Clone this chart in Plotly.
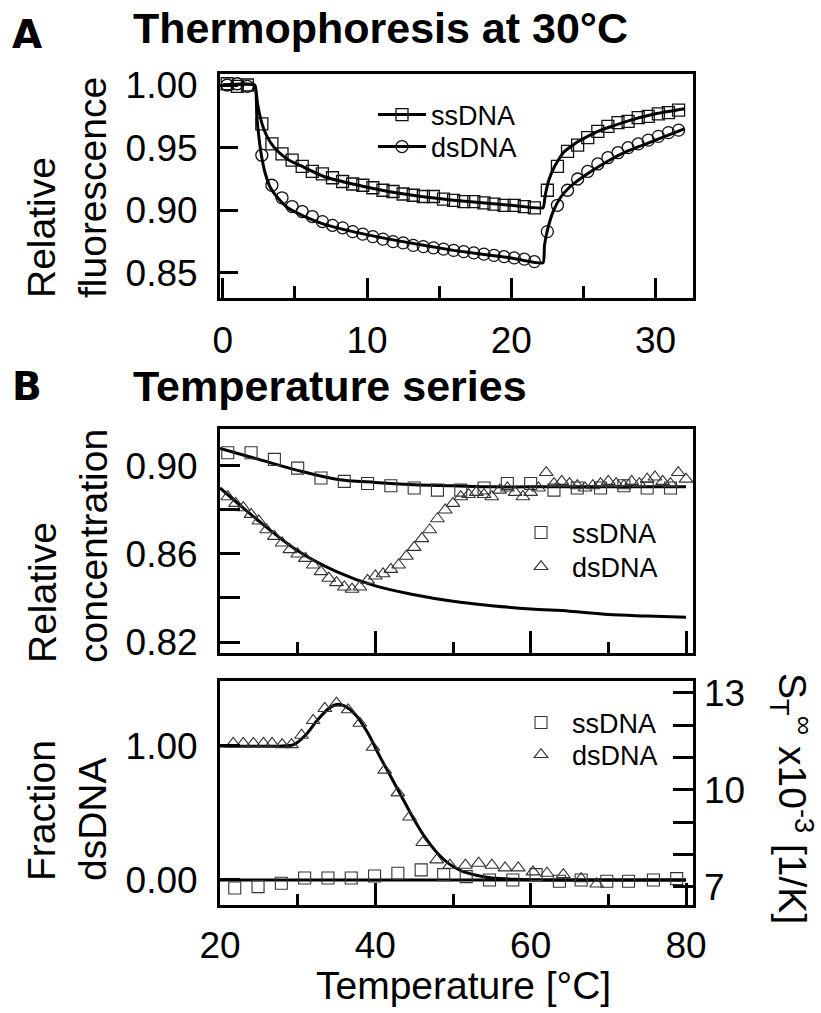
import plotly.graph_objects as go

FONT = "Liberation Sans"

# ---------------- Panel A: thermophoresis at 30 °C ----------------
a_time = [0.3, 1.0, 1.7,
          2.7, 3.4, 4.1, 4.8, 5.5, 6.2, 6.9, 7.6, 8.3, 9.0, 9.7, 10.4, 11.1, 11.8,
          12.5, 13.2, 13.9, 14.6, 15.3, 16.0, 16.7, 17.4, 18.1, 18.8, 19.5, 20.2,
          20.9, 21.6,
          22.5, 23.2, 23.9, 24.6, 25.3, 26.0, 26.7, 27.4, 28.1, 28.8, 29.5, 30.2,
          30.9, 31.6]
a_ss = [1.001, 0.999, 1.000,
        0.969, 0.953, 0.945, 0.940, 0.935, 0.931, 0.929, 0.926, 0.923, 0.921, 0.920,
        0.918, 0.916, 0.915, 0.913, 0.912, 0.911, 0.911, 0.909, 0.908, 0.907, 0.907,
        0.906, 0.905, 0.904, 0.904, 0.903, 0.902,
        0.916, 0.935, 0.947, 0.952, 0.958, 0.963, 0.967, 0.970, 0.971, 0.974, 0.975,
        0.977, 0.978, 0.980]
a_ds = [1.000, 1.001, 0.999,
        0.944, 0.920, 0.910, 0.903, 0.899, 0.895, 0.891, 0.888, 0.886, 0.883, 0.881,
        0.879, 0.877, 0.875, 0.874, 0.872, 0.871, 0.870, 0.869, 0.868, 0.867, 0.866,
        0.865, 0.864, 0.863, 0.862, 0.861, 0.859,
        0.883, 0.904, 0.916, 0.925, 0.931, 0.937, 0.942, 0.946, 0.950, 0.953, 0.956,
        0.959, 0.962, 0.964]

a_fit_ss_t = [0, 2.2, 2.4, 2.6, 2.8, 3.1, 3.5, 4.0, 4.6, 5.5, 7.0, 9.0, 12.0, 16.0,
              20.0, 22.2, 22.35, 22.6, 23.0, 23.6, 24.5, 26.0, 28.0, 30.0, 32.0]
a_fit_ss = [1.0, 1.0, 0.985, 0.974, 0.966, 0.958, 0.951, 0.945, 0.940, 0.935, 0.927,
            0.921, 0.914, 0.908, 0.904, 0.902, 0.912, 0.924, 0.935, 0.946, 0.954,
            0.963, 0.971, 0.977, 0.981]
a_fit_ds_t = [0, 2.2, 2.35, 2.5, 2.7, 2.95, 3.3, 3.8, 4.5, 5.5, 7.0, 9.0, 12.0, 16.0,
              20.0, 22.2, 22.3, 22.5, 22.9, 23.4, 24.0, 25.0, 26.5, 28.0, 30.0, 32.0]
a_fit_ds = [1.0, 1.0, 0.975, 0.958, 0.942, 0.929, 0.918, 0.910, 0.902, 0.896, 0.889,
            0.883, 0.876, 0.868, 0.862, 0.858, 0.872, 0.884, 0.899, 0.910, 0.918,
            0.927, 0.938, 0.947, 0.956, 0.965]

# ---------------- Panel B top: relative concentration ----------------
b_ss_T = [21, 24, 27, 30, 33, 36, 39, 42, 45, 48, 51, 54, 57, 60, 63, 66, 69, 72, 75, 78]
b_ss = [0.906, 0.906, 0.903, 0.899, 0.8945, 0.893, 0.892, 0.891, 0.890, 0.889, 0.889,
        0.890, 0.892, 0.892, 0.889, 0.890, 0.890, 0.891, 0.890, 0.890]
b_ds_T = [21, 22, 23, 24, 25, 26, 27, 28, 29, 30, 31, 32, 33, 34, 35, 36, 37, 38, 39, 40,
          41, 42, 43, 44, 45, 46, 47, 48, 49, 50, 51, 52, 53, 54, 55, 56, 57, 58, 59, 60,
          61, 62, 63, 64, 65, 66, 67, 68, 69, 70, 71, 72, 73, 74, 75, 76, 77, 78, 79, 80]
b_ds = [0.886, 0.883, 0.881, 0.878, 0.875, 0.871, 0.868, 0.865, 0.862, 0.860, 0.858,
        0.855, 0.852, 0.849, 0.847, 0.845, 0.844, 0.845, 0.848, 0.850, 0.851, 0.853,
        0.855, 0.859, 0.863, 0.867, 0.871, 0.876, 0.880, 0.883, 0.886, 0.887, 0.888,
        0.887, 0.886, 0.889, 0.890, 0.888, 0.886, 0.888, 0.890, 0.897, 0.892, 0.893,
        0.892, 0.891, 0.890, 0.891, 0.892, 0.893, 0.892, 0.891, 0.893, 0.892, 0.894,
        0.895, 0.893, 0.892, 0.897, 0.894]
b_fit_ss_T = [20, 25, 30, 35, 40, 45, 50, 55, 60, 70, 80]
b_fit_ss = [0.908, 0.903, 0.898, 0.894, 0.8925, 0.8915, 0.891, 0.8905, 0.8905, 0.8905,
            0.8905]
b_fit_ds_T = [20, 25, 30, 35, 40, 45, 50, 55, 60, 65, 70, 75, 80]
b_fit_ds = [0.890, 0.875, 0.8615, 0.852, 0.8455, 0.8415, 0.8385, 0.8365, 0.835, 0.834,
            0.8325, 0.8318, 0.8312]

# ---------------- Panel B bottom: fraction dsDNA ----------------
c_ds_T = [21.7, 23.0, 24.3, 25.6, 26.7, 28.0, 29.2, 30.5, 32.0, 33.5, 35.0, 36.5, 38.0,
          39.7, 41.2, 42.9, 44.4, 46.1, 47.9, 49.6, 51.6, 53.3, 55.0, 56.7, 58.4, 60.3,
          62.1, 64.2, 66.5, 68.5]
c_ds = [1.02, 1.02, 1.02, 1.02, 1.02, 1.01, 1.01, 1.08, 1.19, 1.28, 1.32, 1.27, 1.17,
        0.99, 0.82, 0.65, 0.47, 0.28, 0.15, 0.11, 0.11, 0.125, 0.11, 0.09, 0.09, 0.06,
        0.05, 0.04, 0.01, -0.03]
c_ss_T = [21.9, 24.9, 27.9, 30.9, 33.9, 36.9, 39.9, 42.9, 45.9, 48.8, 51.7, 54.7, 57.7,
          60.7, 63.7, 66.5, 69.8, 72.6, 75.8, 78.8]
c_ss = [-0.06, -0.05, -0.025, 0.015, 0.015, 0.015, 0.03, 0.05, 0.075, 0.04, 0.025, 0.0,
        0.0, 0.04, -0.01, 0.0, -0.01, -0.01, 0.0, 0.01]
c_fit_ds_T = [20, 28, 29.5, 31, 32.5, 34, 35, 36, 37.5, 39, 40.5, 42, 43.5, 45, 46.5, 48,
              49.5, 51, 53, 55, 58, 62, 80]
c_fit_ds = [1.00, 1.00, 1.01, 1.08, 1.19, 1.28, 1.31, 1.30, 1.23, 1.10, 0.93, 0.77, 0.61,
            0.45, 0.31, 0.20, 0.12, 0.07, 0.035, 0.015, 0.005, 0.0, 0.0]
c_fit_ss_T = [20, 80]
c_fit_ss = [0.0, 0.0]

right_ticks = [7, 10, 13]

fig = go.Figure()

mk_a = dict(color="#111", size=12, line=dict(color="#111", width=1.3))
mk_b = dict(color="#333", size=12, line=dict(color="#333", width=1.1))
LEGF = dict(family="Liberation Sans", size=27, color="black")

# Panel A
fig.add_trace(go.Scatter(x=a_time, y=a_ss, mode="markers", xaxis="x", yaxis="y",
                         marker=dict(symbol="square-open", **mk_a), showlegend=False))
fig.add_trace(go.Scatter(x=a_time, y=a_ds, mode="markers", xaxis="x", yaxis="y",
                         marker=dict(symbol="circle-open", **mk_a), showlegend=False))
fig.add_trace(go.Scatter(x=a_fit_ss_t, y=a_fit_ss, mode="lines", xaxis="x", yaxis="y",
                         line=dict(color="black", width=3, shape="spline", smoothing=0.4),
                         showlegend=False))
fig.add_trace(go.Scatter(x=a_fit_ds_t, y=a_fit_ds, mode="lines", xaxis="x", yaxis="y",
                         line=dict(color="black", width=3, shape="spline", smoothing=0.4),
                         showlegend=False))
fig.add_trace(go.Scatter(x=[None], y=[None], mode="lines+markers", name="ssDNA",
                         xaxis="x", yaxis="y", legend="legend",
                         line=dict(color="black", width=3),
                         marker=dict(symbol="square-open", **mk_a)))
fig.add_trace(go.Scatter(x=[None], y=[None], mode="lines+markers", name="dsDNA",
                         xaxis="x", yaxis="y", legend="legend4",
                         line=dict(color="black", width=3),
                         marker=dict(symbol="circle-open", **mk_a)))

# Panel B top
fig.add_trace(go.Scatter(x=b_fit_ss_T, y=b_fit_ss, mode="lines", xaxis="x2", yaxis="y2",
                         line=dict(color="black", width=3, shape="spline"), showlegend=False))
fig.add_trace(go.Scatter(x=b_fit_ds_T, y=b_fit_ds, mode="lines", xaxis="x2", yaxis="y2",
                         line=dict(color="black", width=3, shape="spline"), showlegend=False))
fig.add_trace(go.Scatter(x=b_ss_T, y=b_ss, mode="markers", xaxis="x2", yaxis="y2",
                         name="ssDNA", legend="legend2",
                         marker=dict(symbol="square-open", **mk_b)))
fig.add_trace(go.Scatter(x=b_ds_T, y=b_ds, mode="markers", xaxis="x2", yaxis="y2",
                         name="dsDNA", legend="legend5",
                         marker=dict(symbol="triangle-up-open", **mk_b)))

# Panel B bottom
fig.add_trace(go.Scatter(x=c_fit_ss_T, y=c_fit_ss, mode="lines", xaxis="x3", yaxis="y3",
                         line=dict(color="black", width=3), showlegend=False))
fig.add_trace(go.Scatter(x=c_fit_ds_T, y=c_fit_ds, mode="lines", xaxis="x3", yaxis="y3",
                         line=dict(color="black", width=3, shape="spline"), showlegend=False))
fig.add_trace(go.Scatter(x=c_ss_T, y=c_ss, mode="markers", xaxis="x3", yaxis="y3",
                         name="ssDNA", legend="legend3",
                         marker=dict(symbol="square-open", **mk_b)))
fig.add_trace(go.Scatter(x=c_ds_T, y=c_ds, mode="markers", xaxis="x3", yaxis="y3",
                         name="dsDNA", legend="legend6",
                         marker=dict(symbol="triangle-up-open", **mk_b)))
fig.add_trace(go.Scatter(x=[None], y=[None], xaxis="x3", yaxis="y4", showlegend=False,
                         mode="markers"))

W, H = 821, 1013
def px(x):
    return x / W
def py(y):
    return 1 - y / H

XD = [px(220), px(693)]
TICKF = dict(family=FONT, size=37, color="black")
common = dict(showline=True, linewidth=3, linecolor="black", mirror=True, showgrid=False,
              zeroline=False, ticks="inside", tickwidth=3, tickcolor="black",
              tickfont=TICKF, automargin=False)

def leg(x, y, iw):
    return dict(x=px(x), y=py(y), xanchor="left", yanchor="middle",
                bgcolor="rgba(0,0,0,0)", font=LEGF, itemwidth=iw, borderwidth=0)

fig.update_layout(
    width=W, height=H, margin=dict(l=0, r=0, t=0, b=0, autoexpand=False),
    paper_bgcolor="white", plot_bgcolor="white",
    font=dict(family=FONT, color="black"),
    xaxis=dict(domain=XD, anchor="y", range=[-0.2, 32.6], tick0=0, dtick=10, ticklen=20,
               minor=dict(ticks="inside", dtick=5, tick0=0, ticklen=12, tickwidth=3,
                          tickcolor="black"),
               ticklabelstandoff=8, **common),
    yaxis=dict(domain=[py(298), py(74)], anchor="x", range=[0.830, 1.0088],
               tickvals=[0.85, 0.90, 0.95, 1.00], tickformat=".2f", ticklen=18,
               ticklabelstandoff=12, **common),
    xaxis2=dict(domain=XD, anchor="y2", range=[20, 80.9], tick0=20, dtick=20, ticklen=22,
                showticklabels=False,
                minor=dict(ticks="inside", dtick=10, tick0=20, ticklen=11, tickwidth=3,
                           tickcolor="black"), **common),
    yaxis2=dict(domain=[py(653), py(429)], anchor="x2", range=[0.815, 0.9168],
                tick0=0.82, dtick=0.04, tickformat=".2f", ticklen=20,
                minor=dict(ticks="inside", tick0=0.82, dtick=0.02, ticklen=20,
                           tickwidth=3, tickcolor="black"),
                ticklabelstandoff=12, **common),
    xaxis3=dict(domain=XD, anchor="y3", range=[20, 80.9], tick0=20, dtick=20, ticklen=22,
                minor=dict(ticks="inside", dtick=10, tick0=20, ticklen=11, tickwidth=3,
                           tickcolor="black"),
                ticklabelstandoff=6, **common),
    yaxis3=dict(domain=[py(905), py(681)], anchor="x3", range=[-0.187, 1.485],
                tickvals=[0.0, 1.0], tickformat=".2f", ticklen=20,
                ticklabelstandoff=12, **common),
    yaxis4=dict(overlaying="y3", anchor="x3", side="right", range=[6.44, 13.37],
                tickvals=right_ticks, showline=False,
                showgrid=False, zeroline=False, ticks="inside", ticklen=20, tickwidth=3,
                tickcolor="black", tickfont=TICKF, ticklabelstandoff=10,
                minor=dict(ticks="inside", tick0=7, dtick=1, ticklen=20, tickwidth=3,
                           tickcolor="black"),
                automargin=False),
    legend=leg(373, 115, 48),
    legend4=leg(373, 147, 48),
    legend2=leg(510, 533, 52),
    legend5=leg(510, 567, 52),
    legend3=leg(510, 723, 52),
    legend6=leg(510, 755, 52),
)

TITLEF = dict(family=FONT, size=39, color="black")
ann = [
    dict(text="<b>A</b>", x=px(10), y=py(34), xanchor="left", yanchor="middle",
         font=dict(family="DejaVu Sans", size=39, color="black")),
    dict(text="<b>Thermophoresis at 30°C</b>", x=px(131), y=py(28), xanchor="left",
         yanchor="middle", font=dict(family=FONT, size=43, color="black")),
    dict(text="<b>B</b>", x=px(10), y=py(386), xanchor="left", yanchor="middle",
         font=dict(family="DejaVu Sans", size=39, color="black")),
    dict(text="<b>Temperature series</b>", x=px(131), y=py(386), xanchor="left",
         yanchor="middle", font=dict(family=FONT, size=43, color="black")),
    dict(text="Relative<br>fluorescence", x=px(67), y=py(188), textangle=-90,
         xanchor="center", yanchor="middle", align="left", font=TITLEF),
    dict(text="Relative<br>concentration", x=px(68), y=py(546), textangle=-90,
         xanchor="center", yanchor="middle", align="left", font=TITLEF),
    dict(text="Fraction<br>dsDNA", x=px(67), y=py(811), textangle=-90,
         xanchor="center", yanchor="middle", align="left", font=TITLEF),
    dict(text="Temperature [°C]", x=px(463), y=py(985), xanchor="center",
         yanchor="middle", font=TITLEF),
    dict(text="S<sub>T</sub><sup>∞</sup> x10<sup>-3</sup> [1/K]", x=px(792), y=py(798),
         textangle=90, xanchor="center", yanchor="middle", font=TITLEF),
]
for a in ann:
    a.update(xref="paper", yref="paper", showarrow=False)
fig.update_layout(annotations=ann)

fig.write_html("out.html", config={"displayModeBar": False},
               post_script="document.body.style.margin='0';"
                           "document.body.style.overflow='hidden';")
